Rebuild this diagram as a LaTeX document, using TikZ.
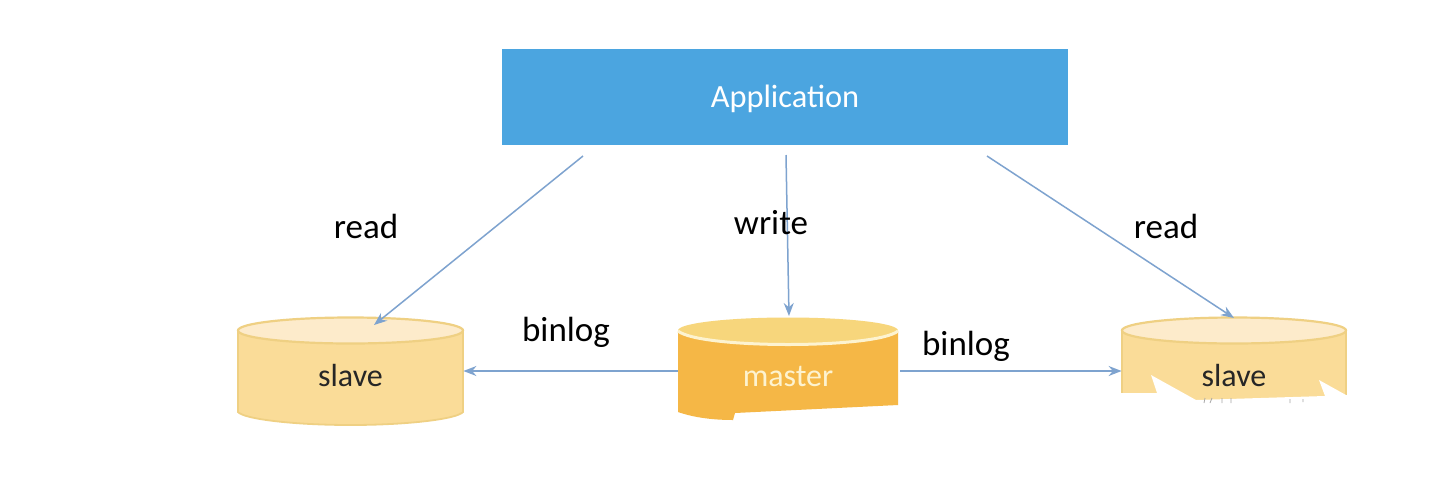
\documentclass[tikz,border=0pt]{standalone}
\usepackage{fontspec}
\setmainfont{Carlito}
\usetikzlibrary{arrows.meta}
\definecolor{appblue}{HTML}{4BA5E0}
\definecolor{arrowblue}{HTML}{7EA3CF}
\definecolor{paleside}{HTML}{FADC98}
\definecolor{paletop}{HTML}{FDEBCB}
\definecolor{paleedge}{HTML}{EFD083}
\definecolor{masterside}{HTML}{F5B746}
\definecolor{mastertop}{HTML}{F7D67C}
\definecolor{masteredge}{HTML}{FDF3D0}
\tikzset{
  lbl/.style={font=\fontsize{17.5}{20}\selectfont,text=black,inner sep=0pt},
  conn/.style={draw=arrowblue,line width=0.75pt,-{Stealth[length=6.5pt,width=5pt]}},
  appbox/.style={fill=appblue,minimum width=283pt,minimum height=48pt,inner sep=0pt,
    text=white,font=\fontsize{16.2}{18}\selectfont},
  dbslot/.style={minimum width=#1,minimum height=54pt,inner sep=0pt,font=\fontsize{16}{18}\selectfont},
}
\newcommand{\canshape}[5]{%
  \path[draw=#5,line width=0.9pt,fill=#3]
    (#1,330) -- (#1,412) .. controls (#1+6,419) and (#1+55,425) .. ({(#1+#2)/2},425)
    .. controls (#2-55,425) and (#2-6,419) .. (#2,412) -- (#2,330) -- cycle;
  \path[draw=#5,line width=1.1pt,fill=#4]
    ({(#1+#2)/2},330.5) ellipse [x radius={(#2-#1)/2},y radius=13];
}
\newcommand{\lowered}[2]{\smash{\raisebox{-#1}{#2}}}
\begin{document}
\begin{tikzpicture}[x=0.5pt,y=-0.5pt]
\useasboundingbox (0,0) rectangle (1432,478);
\fill[white] (0,0) rectangle (1432,478);

\canshape{238}{463}{paleside}{paletop}{paleedge}
\canshape{1122}{1346}{paleside}{paletop}{paleedge}

% master can: lower edge cut off, no outline but the pale front rim
\fill[masterside] (678,331) -- (678,412) .. controls (695,418) and (715,420) .. (733,420)
  -- (735,413) -- (898,405) -- (898,331) -- cycle;
\fill[mastertop] (788,330.5) ellipse [x radius=110,y radius=13];
\draw[masteredge,line width=1.5pt] (678,331) .. controls (700,349) and (876,349) .. (898,331);

% torn white patch over the right-hand can, with the faint scraps left in it
\fill[white] (1118,393) -- (1157,393) -- (1151,375) -- (1196,400) -- (1325,396) -- (1319,380)
  -- (1346,395) -- (1350,395) -- (1350,430) -- (1118,430) -- cycle;
\draw[black!35,line width=0.4pt]
  (1204,403) -- (1205,398) (1210,403) -- (1212,398) (1222,403) -- (1222,398)
  (1231,403) -- (1231,398) (1290,403) -- (1290,399) (1303,402) -- (1303,399);

\node[appbox] (app) at (785,97) {\lowered{5pt}{Application}};
\node[dbslot=112.5pt,text=black!85] (slaveL) at (350.5,371) {\lowered{7.5pt}{slave}};
\node[dbslot=110pt,text=masteredge] (master) at (788,371) {\lowered{7.5pt}{master}};
\node[dbslot=112pt,text=black!85] (slaveR) at (1234,371) {\lowered{7.5pt}{slave}};

\coordinate (appL) at (583,156);
\coordinate (appM) at (786,155);
\coordinate (appR) at (987,156);
\coordinate (inL) at (374,325);
\coordinate (inM) at (789,316);
\coordinate (inR) at (1234,318);

\draw[conn] (appL) -- (inL);
\draw[conn] (appM) -- (inM);
\draw[conn] (appR) -- (inR);
\draw[conn] (master.west) -- (slaveL.east);
\draw[conn] ([xshift=1pt]master.east) -- (slaveR.west);

\node[lbl] (t1) at (366,226.5) {read};
\node[lbl] (t2) at (771,222.5) {write};
\node[lbl] (t3) at (1166,226.5) {read};
\node[lbl] (t4) at (566,332) {binlog};
\node[lbl] (t5) at (966,346) {binlog};
\end{tikzpicture}
\end{document}
